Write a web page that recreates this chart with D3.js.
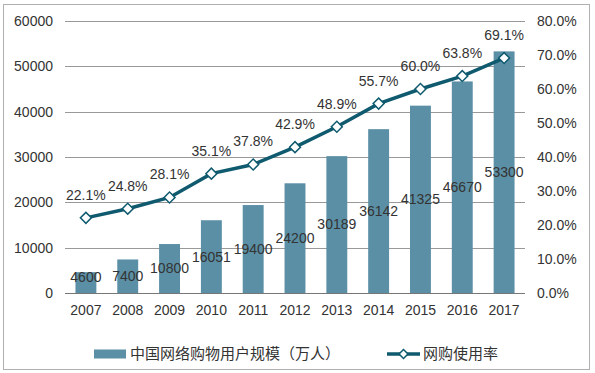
<!DOCTYPE html>
<html>
<head>
<meta charset="utf-8">
<script src="https://cdn.jsdelivr.net/npm/d3@7"></script>
<style>
    body { margin: 0; background: #fff; }
    text { font-family: "Liberation Sans", Arial, sans-serif; fill: #333; }
</style>
</head>
<body>
<div id="chart"></div>
<script>
// Data
var years = ["2007", "2008", "2009", "2010", "2011", "2012", "2013", "2014", "2015", "2016", "2017"];
var users = [4600, 7400, 10800, 16051, 19400, 24200, 30189, 36142, 41325, 46670, 53300];
var rate = [22.1, 24.8, 28.1, 35.1, 37.8, 42.9, 48.9, 55.7, 60.0, 63.8, 69.1];
var leftTicks = [0, 10000, 20000, 30000, 40000, 50000, 60000];
var rightTicks = [0, 10, 20, 30, 40, 50, 60, 70, 80];
var barName = "中国网络购物用户规模（万人）";
var lineName = "网购使用率";

var barColor = "#5b8fa5",
    lineColor = "#0f5a6e";

function initializeChart() {
    d3.select("#chart").select("svg").remove();

    var W = 595, H = 373;
    var margin = { top: 21, right: 70, bottom: 80, left: 65 },
        width = 525 - margin.left,
        height = 293 - margin.top;

    var root = d3.select("#chart").append("svg")
        .attr("width", W)
        .attr("height", H);

    // outer frame
    root.append("rect")
        .attr("x", 3.5).attr("y", 4.5)
        .attr("width", 586).attr("height", 365)
        .attr("fill", "none")
        .attr("stroke", "#b0b0b0");

    var svg = root.append("g")
        .attr("transform", `translate(${margin.left},${margin.top})`);

    // Scales
    var x = d3.scaleBand()
        .domain(years)
        .range([0, width])
        .paddingInner(0.5)
        .paddingOuter(0.25);
    var y = d3.scaleLinear().domain([0, 60000]).range([height, 0]);
    var y2 = d3.scaleLinear().domain([0, 80]).range([height, 0]);

    // Gridlines
    svg.append("g")
        .selectAll("line")
        .data(leftTicks)
        .enter().append("line")
        .attr("x1", 0).attr("x2", width)
        .attr("y1", d => Math.round(y(d)) + 0.5)
        .attr("y2", d => Math.round(y(d)) + 0.5)
        .attr("stroke", d => d === 0 ? "#777" : "#999")
        .attr("stroke-width", 1);

    // Left axis labels
    var yAxis = svg.append("g")
        .call(d3.axisLeft(y).tickValues(leftTicks).tickSize(0).tickPadding(12)
            .tickFormat(d3.format("d")));
    yAxis.select(".domain").remove();
    yAxis.selectAll("text").style("font-size", "14px").attr("fill", "#333");

    // Right axis labels
    var y2Axis = svg.append("g")
        .attr("transform", `translate(${width},0)`)
        .call(d3.axisRight(y2).tickValues(rightTicks).tickSize(0).tickPadding(12)
            .tickFormat(d => d.toFixed(1) + "%"));
    y2Axis.select(".domain").remove();
    y2Axis.selectAll("text").style("font-size", "14px").attr("fill", "#333");

    // X axis labels
    var xAxis = svg.append("g")
        .attr("transform", `translate(0,${height})`)
        .call(d3.axisBottom(x).tickSize(0).tickPadding(12));
    xAxis.select(".domain").remove();
    xAxis.selectAll("text").style("font-size", "14px").attr("fill", "#333");

    // Bars
    svg.selectAll("mybar")
        .data(users)
        .enter()
        .append("rect")
        .attr("x", (d, i) => x(years[i]))
        .attr("y", d => y(d))
        .attr("width", x.bandwidth())
        .attr("height", d => height - y(d))
        .attr("fill", barColor);

    // Bar labels (centre of bar)
    svg.selectAll("barlabel")
        .data(users)
        .enter()
        .append("text")
        .attr("x", (d, i) => x(years[i]) + x.bandwidth() / 2)
        .attr("y", d => Math.min((y(d) + height) / 2, height - 16))
        .attr("dy", "0.35em")
        .attr("text-anchor", "middle")
        .style("font-size", "14px")
        .text(d => d);

    // Line
    var line = d3.line()
        .x((d, i) => x(years[i]) + x.bandwidth() / 2)
        .y(d => y2(d));
    svg.append("path")
        .datum(rate)
        .attr("fill", "none")
        .attr("stroke", lineColor)
        .attr("stroke-width", 3.5)
        .attr("d", line);

    var diamond = d3.symbol().type(d3.symbolSquare).size(60);
    svg.selectAll("marker")
        .data(rate)
        .enter()
        .append("path")
        .attr("d", diamond)
        .attr("transform", (d, i) => `translate(${x(years[i]) + x.bandwidth() / 2},${y2(d)}) rotate(45)`)
        .attr("fill", "#fff")
        .attr("stroke", lineColor)
        .attr("stroke-width", 1.5);

    svg.selectAll("ratelabel")
        .data(rate)
        .enter()
        .append("text")
        .attr("x", (d, i) => x(years[i]) + x.bandwidth() / 2)
        .attr("y", d => y2(d) - 23)
        .attr("dy", "0.35em")
        .attr("text-anchor", "middle")
        .style("font-size", "14px")
        .text(d => d.toFixed(1) + "%");

    // Legend
    var legend = root.append("g").attr("transform", "translate(0,354)");
    legend.append("rect")
        .attr("x", 94).attr("y", -4.5)
        .attr("width", 32).attr("height", 9)
        .attr("fill", barColor);
    legend.append("text")
        .attr("x", 130).attr("y", 0).attr("dy", "0.35em")
        .style("font-family", "'Noto Sans CJK SC', sans-serif")
        .style("font-size", "15px")
        .text(barName);
    legend.append("line")
        .attr("x1", 387).attr("x2", 420)
        .attr("y1", 0).attr("y2", 0)
        .attr("stroke", lineColor)
        .attr("stroke-width", 3.5);
    legend.append("path")
        .attr("d", d3.symbol().type(d3.symbolSquare).size(40))
        .attr("transform", "translate(403.5,0) rotate(45)")
        .attr("fill", "#fff")
        .attr("stroke", lineColor)
        .attr("stroke-width", 1.5);
    legend.append("text")
        .attr("x", 423).attr("y", 0).attr("dy", "0.35em")
        .style("font-family", "'Noto Sans CJK SC', sans-serif")
        .style("font-size", "15px")
        .text(lineName);
}

document.addEventListener('DOMContentLoaded', initializeChart);
</script>
</body>
</html>
